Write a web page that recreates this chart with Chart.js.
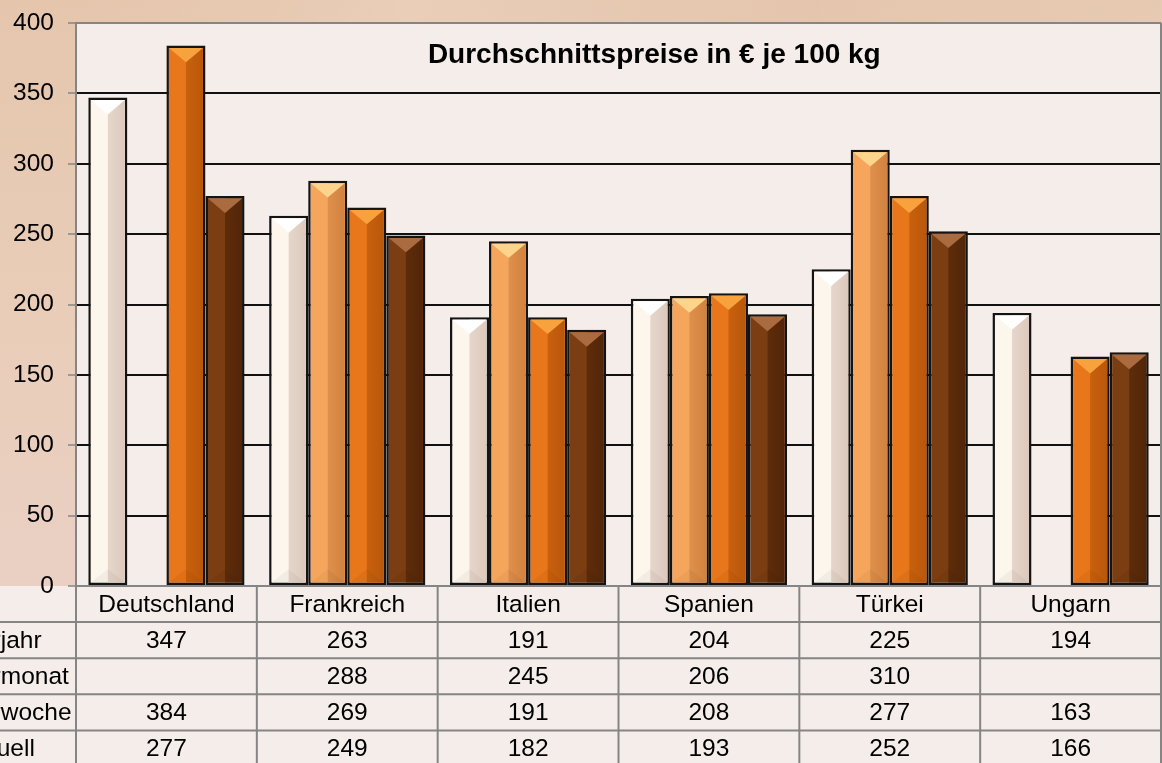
<!DOCTYPE html>
<html>
<head>
<meta charset="utf-8">
<script src="https://cdn.jsdelivr.net/npm/chart.js@4.4.1/dist/chart.umd.min.js"></script>
<style>
html,body{margin:0;padding:0;background:#e8cbb5;overflow:hidden;}
#wrap{width:1162px;height:763px;position:relative;}
</style>
</head>
<body>
<div id="wrap"><canvas id="c"></canvas></div>
<script>
// ---- data ----
const categories = ['Deutschland', 'Frankreich', 'Italien', 'Spanien', 'Türkei', 'Ungarn'];
const seriesNames = ['Vorjahr', 'Vormonat', 'Vorwoche', 'aktuell'];
const vorjahr  = [347, 263, 191, 204, 225, 194];
const vormonat = [null, 288, 245, 206, 310, null];
const vorwoche = [384, 269, 191, 208, 277, 163];
const aktuell  = [277, 249, 182, 193, 252, 166];
const yTickValues = [0, 50, 100, 150, 200, 250, 300, 350, 400];
const chartTitle = 'Durchschnittspreise in € je 100 kg';

// ---- styles ----
const FONT = '"Liberation Sans", Arial, sans-serif';
const shades = [
  {base: '#fdf6ec', dark: '#e6d6cb', top: '#ffffff', bottom: '#dcc9bc'},
  {base: '#f5a65c', dark: '#df904c', top: '#fdd48c', bottom: '#d1823f'},
  {base: '#e8761a', dark: '#c9610d', top: '#f8a23e', bottom: '#b9570b'},
  {base: '#7b3d12', dark: '#5e2c09', top: '#aa6b40', bottom: '#52260a'}
];

const backgroundPlugin = {
  id: 'bg',
  beforeDraw(chart) {
    const {ctx, chartArea: a, width, height} = chart;
    ctx.save();
    const g = ctx.createLinearGradient(0, 0, 0, height);
    g.addColorStop(0, '#e5c6ad');
    g.addColorStop(0.4, '#e9cdb8');
    g.addColorStop(0.75, '#ead0c3');
    g.addColorStop(1, '#e8ccb9');
    ctx.fillStyle = g;
    ctx.fillRect(0, 0, width, height);
    const gh = ctx.createLinearGradient(0, 0, width, 0);
    gh.addColorStop(0, 'rgba(232,196,170,0.0)');
    gh.addColorStop(0.35, 'rgba(238,214,196,0.5)');
    gh.addColorStop(0.7, 'rgba(228,196,172,0.4)');
    gh.addColorStop(1, 'rgba(236,210,190,0.3)');
    ctx.fillStyle = gh;
    ctx.fillRect(0, 0, width, a.top);
    ctx.fillStyle = '#f4ede9';
    ctx.fillRect(a.left, a.top, width - a.left, height - a.top);
    ctx.fillRect(0, a.bottom, a.left, height - a.bottom);
    ctx.restore();
  }
};

const bevelPlugin = {
  id: 'bevel',
  afterDatasetsDraw(chart) {
    const ctx = chart.ctx;
    ctx.save();
    chart.data.datasets.forEach((ds, di) => {
      const meta = chart.getDatasetMeta(di);
      const s = shades[di];
      meta.data.forEach((el, i) => {
        if (ds.data[i] == null) return;
        const p = el.getProps(['x', 'y', 'base', 'width'], true);
        const bw = 2.5;
        const l = p.x - p.width / 2 + bw, r = p.x + p.width / 2 - bw;
        const t = p.y + bw, b = p.base - bw;
        const w = r - l;
        const gr = ctx.createLinearGradient(p.x, 0, r, 0);
        gr.addColorStop(0, s.dark);
        gr.addColorStop(1, s.bottom);
        ctx.fillStyle = gr;
        ctx.fillRect(p.x, t, r - p.x, b - t);
        ctx.beginPath();
        ctx.moveTo(l, b); ctx.lineTo(r, b); ctx.lineTo(p.x, b - w * 0.4); ctx.closePath();
        ctx.fillStyle = 'rgba(0,0,0,0.04)';
        ctx.fill();
        ctx.beginPath();
        ctx.moveTo(l, t); ctx.lineTo(r, t); ctx.lineTo(p.x, t + w * 0.42); ctx.closePath();
        ctx.fillStyle = s.top;
        ctx.fill();
      });
    });
    ctx.restore();
  }
};

const tablePlugin = {
  id: 'table',
  afterDraw(chart) {
    const {ctx, chartArea: a, width, height} = chart;
    const xs = chart.scales.x;
    const n = categories.length;
    const cw = (a.right - a.left) / n;
    const rowH = (height - a.bottom) / 4.9;
    const rows = [vorjahr, vormonat, vorwoche, aktuell];
    ctx.save();
    ctx.fillStyle = '#000';
    ctx.font = 'bold 28px ' + FONT;
    ctx.textAlign = 'center';
    ctx.textBaseline = 'middle';
    ctx.fillText(chartTitle, a.left + (a.right - a.left) * 0.533, a.top + 32);

    ctx.strokeStyle = '#858585';
    ctx.lineWidth = 2;
    ctx.beginPath();
    for (let r = 1; r <= 4; r++) {
      const y = a.bottom + r * rowH;
      ctx.moveTo(0, y); ctx.lineTo(a.right, y);
    }
    for (let i = 0; i <= n; i++) {
      const x = a.left + i * cw;
      ctx.moveTo(x, a.bottom); ctx.lineTo(x, height);
    }
    ctx.moveTo(a.right, a.top); ctx.lineTo(a.right, a.bottom);
    ctx.stroke();

    ctx.fillStyle = '#000';
    ctx.textBaseline = 'middle';
    ctx.textAlign = 'center';
    ctx.font = '24.5px ' + FONT;
    categories.forEach((c, i) => {
      ctx.fillText(c, xs.getPixelForValue(i), a.bottom + rowH / 2 + 1);
    });
    rows.forEach((vals, ri) => {
      const cy = a.bottom + (ri + 1.5) * rowH + 1;
      ctx.textAlign = 'left';
      ctx.fillText(seriesNames[ri], -36, cy);
      ctx.textAlign = 'center';
      vals.forEach((v, i) => {
        if (v == null) return;
        ctx.fillText(String(v), xs.getPixelForValue(i), cy);
      });
    });
    ctx.restore();
  }
};

const datasets = [vorjahr, vormonat, vorwoche, aktuell].map((d, i) => ({
  label: seriesNames[i],
  data: d,
  backgroundColor: shades[i].base,
  borderColor: '#141414',
  borderWidth: 2.5,
  borderSkipped: false,
  barPercentage: 1.0,
  categoryPercentage: 0.864
}));

new Chart(document.getElementById('c'), {
  type: 'bar',
  data: {labels: categories, datasets},
  options: {
    responsive: true,
    maintainAspectRatio: false,
    animation: false,
    layout: {padding: {left: 0, right: 1, top: 23, bottom: 177}},
    plugins: {legend: {display: false}, tooltip: {enabled: false}, title: {display: false}},
    scales: {
      x: {display: false},
      y: {
        min: 0, max: 400,
        afterFit(scale) { scale.width = 76; scale.paddingTop = 0; scale.paddingBottom = 0; },
        afterBuildTicks(scale) { scale.ticks = yTickValues.map(v => ({value: v})); },
        ticks: {color: '#000', font: {size: 24.5, family: FONT}, padding: 14},
        grid: {
          color: c => (c.tick && (c.tick.value === 400 || c.tick.value === 0)) ? '#858585' : '#111',
          lineWidth: 2,
          tickLength: 8,
          tickColor: '#858585',
          tickWidth: 1.5
        },
        border: {display: true, color: '#858585', width: 2}
      }
    }
  },
  plugins: [backgroundPlugin, bevelPlugin, tablePlugin]
});
</script>
</body>
</html>
